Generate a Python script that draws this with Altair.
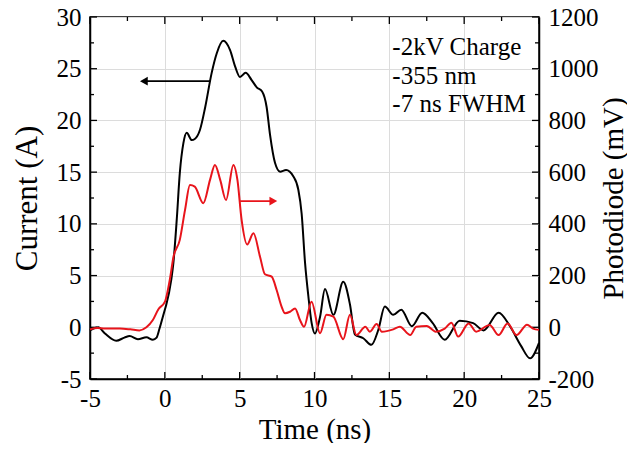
import altair as alt
import pandas as pd

FONT = "Liberation Serif"

# ---- data ----
t_current = [-5.0, -4.45, -4.0, -3.25, -2.7, -2.35, -1.8, -1.23, -0.8, -0.55, -0.35, 0.0, 0.1, 0.43,
             0.57, 0.8, 1.0, 1.24, 1.46, 1.8, 2.0, 2.35, 2.7, 3.13, 3.47, 3.9, 4.36, 4.7, 5.02, 5.4,
             5.8, 6.14, 6.5, 6.8, 7.03, 7.36, 7.7, 8.1, 8.58, 8.92, 9.14, 9.37, 9.59, 9.81, 10.03,
             10.37, 10.7, 11.26, 11.92, 12.37, 12.7, 13.26, 13.8, 14.26, 14.7, 15.26, 15.8, 16.5,
             17.2, 17.9, 18.7, 19.7, 20.6, 21.3, 22.3, 23.06, 23.8, 24.4, 25.0]
current = [-0.3, 0.0, -0.6, -1.3, -1.0, -0.85, -1.15, -0.97, -1.2, -1.0, -0.1, 1.7, 2.2, 4.6,
           6.2, 10.5, 14.9, 17.8, 18.8, 18.1, 18.2, 19.1, 21.3, 24.6, 26.5, 27.7, 26.8, 25.2, 24.2, 24.6,
           23.9, 23.2, 22.8, 21.3, 18.6, 15.9, 15.05, 15.2, 14.6, 13.3, 11.0, 6.2, 3.0, 0.4, -0.6,
           1.0, 3.7, 1.2, 4.4, 2.2, -0.7, -1.06, -1.7, -0.26, 2.0, 1.2, 1.7, 0.1,
           1.4, 0.4, -1.2, 0.64, 0.4, -0.3, 1.4, 0.1, -1.8, -3.0, -1.5]

t_photo = [-5.0, -4.5, -4.0, -3.0, -2.3, -1.7, -1.23, -0.8, -0.43, 0.0, 0.35, 0.57, 1.0, 1.35, 1.68,
           2.0, 2.57, 3.02, 3.35, 3.7, 4.09, 4.58, 4.85, 5.13, 5.5, 5.92, 6.36, 6.69, 7.14, 7.47, 7.8,
           8.03, 8.36, 8.7, 9.03, 9.3, 9.8, 10.37, 10.8, 11.26, 11.92, 12.37, 12.8, 13.4, 13.7,
           14.15, 14.5, 15.26, 15.7, 16.4, 16.8, 17.5, 18.1, 18.7, 19.15, 19.6, 20.3, 20.8, 21.7,
           22.3, 22.9, 23.5, 24.2, 24.6, 25.0]
photodiode = [-8, -3, -5, -5, -8, -12, 0, 28, 70, 98, 190, 270, 338, 454, 550,
              544, 480, 570, 628, 570, 492, 628, 570, 415, 320, 364, 273, 205, 196, 144, 80,
              54, 60, 73, 28, 2, 99, -23, 48, 41, -46, 48, -30, 2, -17,
              13, -17, -8, 2, -30, 2, 5, -17, -5, 18, -36, 15, -17, 9,
              -30, 15, -30, 10, -5, -10]

x_tick_values = [-5, 0, 5, 10, 15, 20, 25]
x_minor_values = [-2.5, 2.5, 7.5, 12.5, 17.5, 22.5]
yl_tick_values = [-5, 0, 5, 10, 15, 20, 25, 30]
yl_minor_values = [-2.5, 2.5, 7.5, 12.5, 17.5, 22.5, 27.5]
yr_tick_values = [-200, 0, 200, 400, 600, 800, 1000, 1200]

notes = ["-2kV Charge", "-355 nm", "-7 ns FWHM"]
notes_t = [15.2, 15.2, 15.2]
notes_i = [27.1, 24.3, 21.6]

arrow_black = {"t": [3.03], "t2": [-1.5], "I": [23.8], "head": [-1.4]}
arrow_red = {"t": [5.03], "t2": [7.3], "I": [12.2], "head": [7.25]}

W, H = 449, 362

df_cur = pd.DataFrame({"t": t_current, "I": current})
df_pd = pd.DataFrame({"t": t_photo, "P": photodiode})

x_scale = alt.Scale(domain=[-5, 25], nice=False, zero=False)
yl_scale = alt.Scale(domain=[-5, 30], nice=False, zero=False)
yr_scale = alt.Scale(domain=[-200, 1200], nice=False, zero=False)

LABEL = "'' + datum.value"

x_axis = alt.Axis(values=x_tick_values, title="Time (ns)", grid=True, ticks=False,
                  labelPadding=7, titleY=50, titleBaseline="middle", labelExpr=LABEL,
                  labelFlush=False, labelOverlap=False)
yl_axis = alt.Axis(orient="left", values=yl_tick_values, title="Current (A)", grid=True,
                   ticks=False, labelPadding=9, titleX=-63, titleY=H / 2, titleAngle=270,
                   titleBaseline="middle", titleAlign="center", labelFlush=False,
                   labelOverlap=False, labelExpr=LABEL, titleFontSize=31)
yr_axis = alt.Axis(orient="right", values=yr_tick_values, title="Photodiode (mV)", grid=False,
                   ticks=False, labelPadding=9, titleX=74, titleY=H / 2, titleAngle=270,
                   titleBaseline="middle", titleAlign="center", labelFlush=False,
                   labelOverlap=False, labelExpr=LABEL)

X = alt.X("t:Q", scale=x_scale, axis=x_axis)
YL = alt.Y("I:Q", scale=yl_scale, axis=yl_axis)

black_line = alt.Chart(df_cur).mark_line(color="black", strokeWidth=2, interpolate="monotone").encode(
    x=X, y=YL)

# inward ticks on all four sides
def xticks(values, length):
    d = pd.DataFrame({"t": values})
    bottom = alt.Chart(d).mark_rule(color="black", strokeWidth=1.3).encode(
        x=X, y=alt.value(H - length), y2=alt.value(H))
    top = alt.Chart(d).mark_rule(color="black", strokeWidth=1.3).encode(
        x=X, y=alt.value(0), y2=alt.value(length))
    return [bottom, top]

def yticks(values, length):
    d = pd.DataFrame({"I": values})
    left = alt.Chart(d).mark_rule(color="black", strokeWidth=1.3).encode(
        y=YL, x=alt.value(0), x2=alt.value(length))
    right = alt.Chart(d).mark_rule(color="black", strokeWidth=1.3).encode(
        y=YL, x=alt.value(W - length), x2=alt.value(W))
    return [left, right]

tick_layers = xticks(x_tick_values, 7) + xticks(x_minor_values, 4) + \
    yticks(yl_tick_values, 7) + yticks(yl_minor_values, 4)

def arrow(spec, color, shape):
    d = pd.DataFrame(spec)
    shaft = alt.Chart(d).mark_rule(color=color, strokeWidth=1.6).encode(
        x=X, x2=alt.X2("t2"), y=YL)
    head = alt.Chart(d).mark_point(shape=shape, filled=True, color=color, size=80, opacity=1).encode(
        x=alt.X("head:Q", scale=x_scale, axis=x_axis), y=YL)
    return [shaft, head]

arrows = arrow(arrow_black, "black", "triangle-left") + arrow(arrow_red, "#e8141b", "triangle-right")

notes_df = pd.DataFrame({"t": notes_t, "I": notes_i, "label": notes})
notes_layer = alt.Chart(notes_df).mark_text(align="left", baseline="middle", font=FONT,
                                            fontSize=25, color="black").encode(
    x=X, y=YL, text="label:N")

left = alt.layer(black_line, *tick_layers, *arrows, notes_layer)

red_line = alt.Chart(df_pd).mark_line(color="#e8141b", strokeWidth=2, interpolate="monotone").encode(
    x=X, y=alt.Y("P:Q", scale=yr_scale, axis=yr_axis))

chart = alt.layer(left, red_line).resolve_scale(y="independent").properties(
    width=W, height=H,
    padding={"left": 82, "top": 9, "right": 88, "bottom": 64},
    autosize=alt.AutoSizeParams(type="none"),
    background="white",
).configure_view(stroke="black", strokeWidth=1.5).configure_axis(
    domainColor="black", domainWidth=1.5, labelFont=FONT, labelFontSize=25,
    labelColor="black", titleFont=FONT, titleFontSize=29, titleColor="black",
    titleFontWeight="normal", gridColor="#dcdcdc", gridWidth=1)

chart.save("out.html", embed_options={"renderer": "svg", "actions": False})
